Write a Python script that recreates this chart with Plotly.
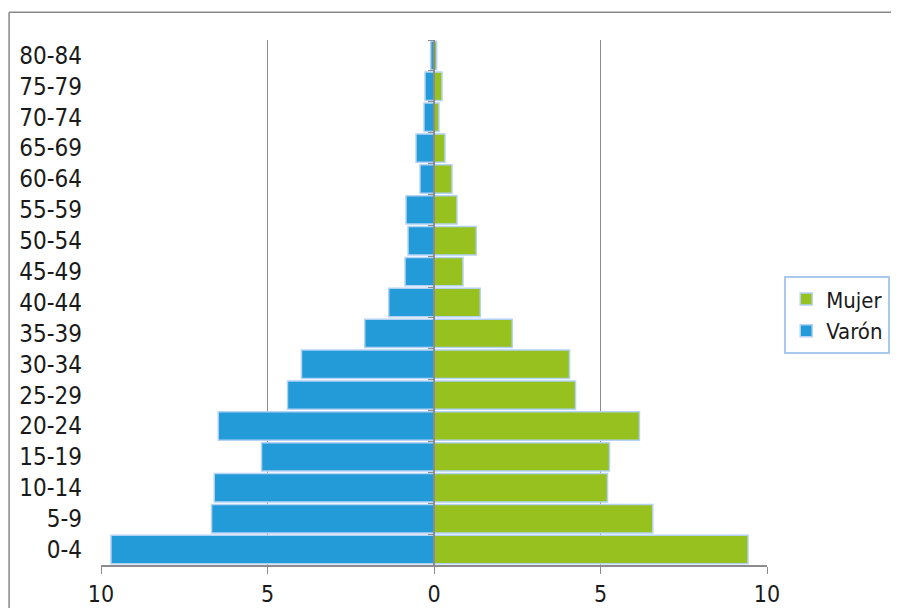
import plotly.graph_objects as go

age_groups = ["0-4", "5-9", "10-14", "15-19", "20-24", "25-29", "30-34", "35-39",
              "40-44", "45-49", "50-54", "55-59", "60-64", "65-69", "70-74", "75-79", "80-84"]
varon = [9.7, 6.68, 6.6, 5.18, 6.48, 4.4, 3.98, 2.08, 1.36, 0.87, 0.78, 0.84, 0.42, 0.54, 0.3, 0.27, 0.1]
mujer = [9.43, 6.57, 5.21, 5.27, 6.17, 4.25, 4.07, 2.35, 1.39, 0.87, 1.27, 0.69, 0.54, 0.33, 0.15, 0.24, 0.08]
x_ticks = [-10, -5, 0, 5, 10]
x_tick_text = ["10", "5", "0", "5", "10"]

FONT = "DejaVu Sans Condensed"
GRID = "#8c8c8c"
OUTLINE = "#b3d2f4"

fig = go.Figure()
fig.add_trace(go.Bar(
    y=age_groups, x=mujer, orientation="h", name="Mujer",
    marker=dict(color="#96c11f", line=dict(color=OUTLINE, width=1.5)),
    yaxis="y2",
))
fig.add_trace(go.Bar(
    y=age_groups, x=[-v for v in varon], orientation="h", name="Varón",
    marker=dict(color="#229bd8", line=dict(color=OUTLINE, width=1.5)),
    yaxis="y",
))

fig.update_layout(
    template="none",
    width=891, height=600,
    margin=dict(l=93, r=132, t=32, b=43, autoexpand=False),
    paper_bgcolor="white", plot_bgcolor="white",
    font=dict(family=FONT, size=24, color="#1a1a1a"),
    bargap=0.08,
    showlegend=True,
    legend=dict(
        x=1.185, y=0.55, xanchor="right", yanchor="top",
        bordercolor="#a9c9ef", borderwidth=2, bgcolor="white",
        font=dict(family=FONT, size=22, color="#1a1a1a"),
        traceorder="normal", itemwidth=30, tracegroupgap=7,
    ),
    xaxis=dict(
        range=[-10, 10], tickvals=x_ticks, ticktext=x_tick_text,
        showgrid=True, gridcolor=GRID, gridwidth=1, zeroline=False,
        showline=True, linecolor=GRID, linewidth=1.5,
        ticks="outside", ticklen=7, tickcolor=GRID,
        ticklabelstandoff=1, automargin=False,
        tickfont=dict(size=23),
    ),
    yaxis=dict(
        categoryorder="array", categoryarray=age_groups, range=[-0.5, 16.5],
        showgrid=False, zeroline=False, showline=False, ticks="",
        ticklabelstandoff=18, automargin=False,
    ),
    yaxis2=dict(
        categoryorder="array", categoryarray=age_groups, range=[-0.5, 16.5],
        overlaying="y", anchor="free", position=0.5, side="left",
        showgrid=False, zeroline=False, showline=True, linecolor=GRID, linewidth=1.5,
        ticks="outside", ticklen=5, tickcolor=GRID, tickson="boundaries",
        showticklabels=False, automargin=False,
    ),
    shapes=[
        dict(type="line", xref="paper", yref="paper", x0=-0.138, x1=1.2, y0=1.053, y1=1.053,
             line=dict(color="#888888", width=1.5)),
        dict(type="line", xref="paper", yref="paper", x0=-0.138, x1=-0.138, y0=1.053, y1=-0.1,
             line=dict(color="#888888", width=1.5)),
    ],
)

fig.write_html("out.html")
